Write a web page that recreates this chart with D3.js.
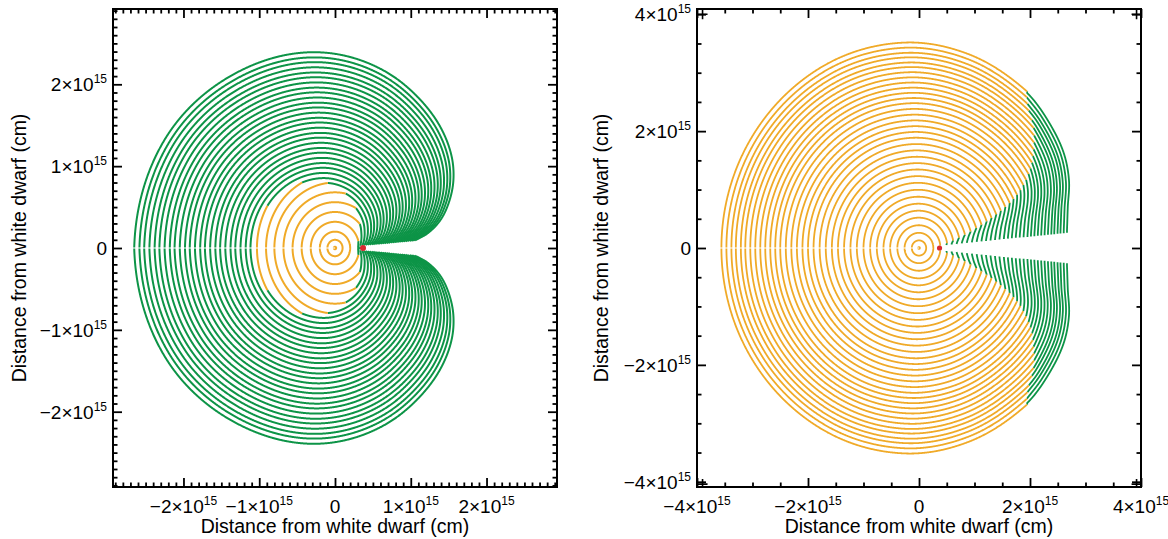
<!DOCTYPE html>
<html><head><meta charset="utf-8">
<script src="https://cdn.jsdelivr.net/npm/d3@7"></script>
<style>
body{margin:0;background:#fff}
svg{display:block}
text{font-family:"Liberation Sans",Arial,Helvetica,sans-serif;fill:#000}
</style>
</head><body>
<svg id="chart" width="1168" height="539"></svg>
<script>
// ===== DATA (all distances in units of 1e15 cm) =====
const companionX = 0.37;

// Left panel
const leftShellRadii = [0.015,0.10,0.20,0.32,0.44,0.56,0.68,0.80,0.91,1.03,1.15,1.26,1.38,1.50,1.61,1.73,1.85,1.96,2.08,2.20,2.31,2.43,2.55,2.66,2.78,2.90,3.01,3.13,3.25,3.36,3.48,3.60,3.71,3.83];
const leftBoundaryAngles = [0,10,25,40,53,66,81,95,110,130,150,165,180];
const leftBoundaryRadii  = [0.30,0.31,0.35,0.43,0.51,0.60,0.70,0.79,0.87,0.96,1.03,1.06,1.07];
const leftOuterAngles = [0,4.9,8,13.7,19.8,28,35.8,46.8,59.6,73.6,97,120,150,180];
const leftOuterRadii  = [0.95,1.06,1.22,1.43,1.59,1.77,1.90,2.03,2.145,2.262,2.41,2.50,2.61,2.65];
const leftShapeAngles = [0,180];
const leftShapeFactor = [1,1];
const leftWedgeX = [0.37,1.06];
const leftWedgeHalf = [0.03,0.09];
const leftXDomain = [-2.93,2.93];
const leftYDomain = [-2.92,2.92];
const leftMajorTicks = [-2,-1,0,1,2];
const leftTickLabels = ["−2×10^15","−1×10^15","0","1×10^15","2×10^15"];
const leftMinorStep = 0.1;

// Right panel
const rightShellRadii = [0.015,0.13,0.26,0.39,0.52,0.64,0.76,0.88,1.00,1.12,1.235,1.35,1.46,1.57,1.68,1.79,1.90,2.00,2.10,2.20,2.30,2.40,2.50,2.59,2.68,2.77,2.86,2.95,3.04,3.13,3.21,3.30,3.38,3.47,3.56];
const rightBoundaryAngles = [0,5,11.8,18.9,22.5,26.2,32.7,39.9,44.2,53.9,57,70];
const rightBoundaryRadii  = [0.36,0.40,0.63,1.15,1.52,1.90,2.35,2.70,2.89,3.31,4.5,10];
const rightOuterAngles = [0,5.8,9.6,14.6,23.2,31.7,42.6,53.4,60];
const rightOuterRadii  = [2.66,2.68,2.71,2.77,2.94,3.07,3.18,3.29,3.33];
const rightShapeAngles = [0,30,54,75,94,120,180];
const rightShapeFactor = [0.90,0.91,0.93,0.965,0.99,1.0,1.0];
const rightWedgeX = [0.37,2.7];
const rightWedgeHalf = [0.04,0.26];
const rightXDomain = [-4,4];
const rightYDomain = [-4.09,4.09];
const rightMajorTicks = [-4,-2,0,2,4];
const rightTickLabels = ["−4×10^15","−2×10^15","0","2×10^15","4×10^15"];
const rightMinorStep = 0.5;
const rightCornerMarkX = [-3.9,3.92,-3.9,3.92];
const rightCornerMarkY = [4.0,4.0,-4.04,-4.04];

const axisTitle = "Distance from white dwarf (cm)";

// ===== STYLE =====
const ORANGE = "#f0aa28", GREEN = "#0d9447", RED = "#d9292f";
const svg = d3.select("#chart");

// smooth monotone (Fritsch–Carlson) interpolation through tabulated knots
function smooth(xs, ys){
  const n = xs.length;
  if (n < 3) return d3.scaleLinear().domain(xs).range(ys).clamp(true);
  const d = [];
  for (let i = 0; i < n-1; i++) d.push((ys[i+1]-ys[i])/(xs[i+1]-xs[i]));
  const m = ys.map((_, i) => {
    if (i === 0) return d[0];
    if (i === n-1) return d[n-2];
    if (d[i-1]*d[i] <= 0) return 0;
    const w1 = 2*(xs[i+1]-xs[i]) + (xs[i]-xs[i-1]), w2 = (xs[i+1]-xs[i]) + 2*(xs[i]-xs[i-1]);
    return (w1+w2)/(w1/d[i-1] + w2/d[i]);
  });
  return t => {
    if (t <= xs[0]) return ys[0];
    if (t >= xs[n-1]) return ys[n-1];
    let i = d3.bisectRight(xs, t) - 1; if (i > n-2) i = n-2;
    const h = xs[i+1]-xs[i], s = (t-xs[i])/h, s2 = s*s, s3 = s2*s;
    return (2*s3-3*s2+1)*ys[i] + (s3-2*s2+s)*h*m[i] + (-2*s3+3*s2)*ys[i+1] + (s3-s2)*h*m[i+1];
  };
}

function panel(cfg){
  const x = d3.scaleLinear().domain(cfg.xDomain).range([cfg.left, cfg.right]);
  const y = d3.scaleLinear().domain(cfg.yDomain).range([cfg.bottom, cfg.top]);
  const g = svg.append("g");
  const clipId = "clip" + cfg.id;
  g.append("clipPath").attr("id", clipId).append("rect")
    .attr("x", cfg.left).attr("y", cfg.top).attr("width", cfg.right-cfg.left).attr("height", cfg.bottom-cfg.top);
  const plot = g.append("g").attr("clip-path", `url(#${clipId})`);

  // shells
  const B = smooth(cfg.bAng, cfg.bRad);
  const O = smooth(cfg.oAng, cfg.oRad);
  const S = smooth(cfg.sAng, cfg.sVal);
  const Wd = d3.scaleLinear().domain(cfg.wedgeX).range(cfg.wedgeHalf);
  const fmax = d3.max(cfg.radii);
  const line = d3.line().x(d => x(d[0])).y(d => y(d[1]));
  const step = 0.15;
  cfg.radii.forEach(f => {
    const pts = [];
    for (let a = 0; a <= 180 + 1e-9; a += step) {
      const t = a*Math.PI/180;
      const sO = S(a);
      const s = 1 - (1 - sO)*f/fmax;
      const fs = f*s;
      const b = B(a);
      let r, green;
      if (fs <= b) { r = fs; green = false; }
      else {
        const den = fmax*sO - b;
        let c = den > 1e-6 ? (O(a) - b)/den : 1;
        c = Math.max(0.02, Math.min(1, c));
        r = b + (fs - b)*c; green = true;
      }
      const px = r*Math.cos(t), py = r*Math.sin(t);
      const clipped = px >= cfg.wedgeX[0]-0.04 && py < Wd(px);
      pts.push({px, py, green, clipped});
    }
    const segs = []; let seg = null;
    pts.forEach(p => {
      if (p.clipped) { if (seg) { segs.push(seg); seg = null; } return; }
      if (!seg) seg = {green:p.green, pts:[]};
      else if (seg.green !== p.green) { seg.pts.push([p.px,p.py]); segs.push(seg); seg = {green:p.green, pts:[]}; }
      seg.pts.push([p.px,p.py]);
    });
    if (seg) segs.push(seg);
    segs.forEach(sg => {
      if (sg.pts.length < 2) return;
      [1,-1].forEach(sign => {
        plot.append("path")
          .attr("d", line(sg.pts.map(q => [q[0], sign*q[1]])))
          .attr("fill","none").attr("stroke", sg.green ? GREEN : ORANGE)
          .attr("stroke-width", cfg.sw);
      });
    });
  });
  // thin white seam along the negative x axis
  plot.append("line").attr("x1", x(-fmax-0.1)).attr("x2", x(0)).attr("y1", y(0)).attr("y2", y(0))
    .attr("stroke","#fff").attr("stroke-width",1);
  // companion
  plot.append("circle").attr("cx", x(companionX)).attr("cy", y(0)).attr("r", cfg.dotR).attr("fill", RED);

  // corner markers
  if (cfg.markX) cfg.markX.forEach((mx,i) => {
    const cx = x(mx), cy = y(cfg.markY[i]);
    plot.append("path").attr("d", `M${cx-5},${cy}H${cx+5}M${cx},${cy-5}V${cy+5}`)
      .attr("stroke","#000").attr("stroke-width",1.6).attr("fill","none");
  });

  // axes ticks (inward)
  const xr = cfg.xDomain, yr = cfg.yDomain;
  const minorX = d3.range(Math.ceil(xr[0]/cfg.minor-1e-6), Math.floor(xr[1]/cfg.minor+1e-6)+1).map(k => +(k*cfg.minor).toFixed(4)).filter(v => !cfg.major.includes(v));
  const minorY = d3.range(Math.ceil(yr[0]/cfg.minor-1e-6), Math.floor(yr[1]/cfg.minor+1e-6)+1).map(k => +(k*cfg.minor).toFixed(4)).filter(v => !cfg.major.includes(v));
  const mk = (axisFn, scale, vals, size, tx, ty) => {
    const a = g.append("g").attr("transform", `translate(${tx},${ty})`)
      .call(axisFn(scale).tickValues(vals).tickSize(-size).tickSizeOuter(0).tickFormat(""));
    a.select(".domain").remove();
    a.selectAll("line").attr("stroke","#000").attr("stroke-width",1.8);
  };
  [[cfg.major,9],[minorX,4.5]].forEach(([v,s]) => { mk(d3.axisBottom, x, v, s, 0, cfg.bottom); mk(d3.axisTop, x, v, s, 0, cfg.top); });
  [[cfg.major,9],[minorY,4.5]].forEach(([v,s]) => { mk(d3.axisLeft, y, v, s, cfg.left, 0); mk(d3.axisRight, y, v, s, cfg.right, 0); });

  g.append("rect").attr("x", cfg.left).attr("y", cfg.top).attr("width", cfg.right-cfg.left).attr("height", cfg.bottom-cfg.top)
    .attr("fill","none").attr("stroke","#000").attr("stroke-width",2);

  // tick labels
  const addLabel = (str, px, py, anchor) => {
    const parts = str.split("^");
    const t = g.append("text").attr("x", px).attr("y", py).attr("text-anchor", anchor).attr("font-size", 19);
    t.append("tspan").text(parts[0]);
    if (parts[1]) t.append("tspan").attr("font-size", 12).attr("dy", -8).text(parts[1]);
  };
  cfg.major.forEach((v,i) => {
    addLabel(cfg.labels[i], x(v), cfg.bottom + 26, "middle");
    addLabel(cfg.labels[i], cfg.left - 6, y(v) + 7, "end");
  });
  // titles
  g.append("text").attr("x", (cfg.left+cfg.right)/2).attr("y", 533).attr("text-anchor","middle").attr("font-size",19.5).text(axisTitle);
  g.append("text").attr("transform", `translate(${cfg.ytitleX},${(cfg.top+cfg.bottom)/2}) rotate(-90)`)
    .attr("text-anchor","middle").attr("font-size",19.5).text(axisTitle);
}

panel({id:"L", left:113, right:557, top:9, bottom:487, xDomain:leftXDomain, yDomain:leftYDomain,
  radii:leftShellRadii, bAng:leftBoundaryAngles, bRad:leftBoundaryRadii, oAng:leftOuterAngles, oRad:leftOuterRadii,
  sAng:leftShapeAngles, sVal:leftShapeFactor, wedgeX:leftWedgeX, wedgeHalf:leftWedgeHalf,
  major:leftMajorTicks, labels:leftTickLabels, minor:leftMinorStep, sw:2, dotR:3, ytitleX:26});

panel({id:"R", left:697, right:1141, top:9, bottom:487, xDomain:rightXDomain, yDomain:rightYDomain,
  radii:rightShellRadii, bAng:rightBoundaryAngles, bRad:rightBoundaryRadii, oAng:rightOuterAngles, oRad:rightOuterRadii,
  sAng:rightShapeAngles, sVal:rightShapeFactor, wedgeX:rightWedgeX, wedgeHalf:rightWedgeHalf,
  major:rightMajorTicks, labels:rightTickLabels, minor:rightMinorStep, sw:1.8, dotR:2.6, ytitleX:608,
  markX:rightCornerMarkX, markY:rightCornerMarkY});
</script>
</body></html>
